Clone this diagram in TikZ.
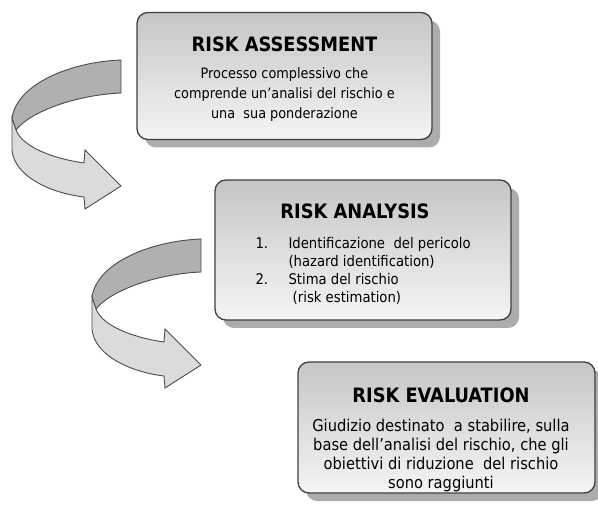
\documentclass[tikz,border=0pt]{standalone}
\usepackage{fontspec}
\setmainfont{DejaVu Sans Condensed}
\usetikzlibrary{shadows}

\tikzset{
  stepbox/.style={draw=black!75, line width=1.3, rounded corners=11,
    top color=gray!45, bottom color=gray!8,
    drop shadow={shadow xshift=8pt, shadow yshift=-8pt, fill=gray!65, opacity=1}},
  boxtitle/.style={anchor=base, font=\bfseries\fontsize{19.8}{22}\selectfont},
  boxtext/.style={anchor=base, align=center, font=\fontsize{14.3}{20}\selectfont},
  listtext/.style={anchor=base west, align=left, font=\fontsize{14.7}{18}\selectfont},
  backband/.style={fill=gray!62, draw=black!70, line width=0.9},
  frontband/.style={fill=gray!28, draw=black!70, line width=0.9}
}

\begin{document}
\begin{tikzpicture}[x=1pt,y=-1pt]
  \useasboundingbox (0,0) rectangle (598,508);
  \fill[white] (0,0) rectangle (598,508);
  % curved ribbon arrows
  \foreach \dx/\dy in {0/0, 80/179} {
    \begin{scope}[shift={(\dx,\dy)}]
      \path[backband] (121,60) .. controls (70,62) and (17,84) .. (12,118)
        -- (16,130) .. controls (30,112) and (75,95) .. (121,93) -- cycle;
      \path[frontband] (12,118) -- (12,150) .. controls (14,176) and (50,193) .. (84,197)
        -- (85,209) -- (121,186) -- (85,150) -- (84,163)
        .. controls (50,158) and (22,146) .. (16,130) -- cycle;
    \end{scope}
  }
  % boxes
  \node[stepbox, minimum width=295, minimum height=127] (assess) at (284.5,76) {};
  \node[stepbox, minimum width=296, minimum height=140] (analysis) at (363,250) {};
  \node[stepbox, minimum width=297, minimum height=131] (evaluation) at (446.5,427.5) {};
  % texts
  \node[boxtitle] (assesstitle) at (284.5,52) {RISK ASSESSMENT};
  \node[boxtext, anchor=north] (assesstext) at (284.5,64)
    {Processo complessivo che\\comprende un’analisi del rischio e\\una\ \ sua ponderazione};
  \node[boxtitle] (analysistitle) at (355,219) {RISK ANALYSIS};
  \node[listtext, anchor=north west] (analysisnum) at (252,234) {1.\\\\2.};
  \node[listtext, anchor=north west] (analysistext) at (285,234)
    {Identificazione\ \ del pericolo\\(hazard identification)\\Stima del rischio\\\ (risk estimation)};
  \node[boxtitle] (evaluationtitle) at (441,402) {RISK EVALUATION};
  \node[boxtext, anchor=north, font=\fontsize{16.3}{19}\selectfont] (evaluationtext) at (441,416)
    {Giudizio destinato\ \ a stabilire, sulla\\base dell’analisi del rischio, che gli\\obiettivi di riduzione\ \ del rischio\\sono raggiunti};
\end{tikzpicture}
\end{document}
